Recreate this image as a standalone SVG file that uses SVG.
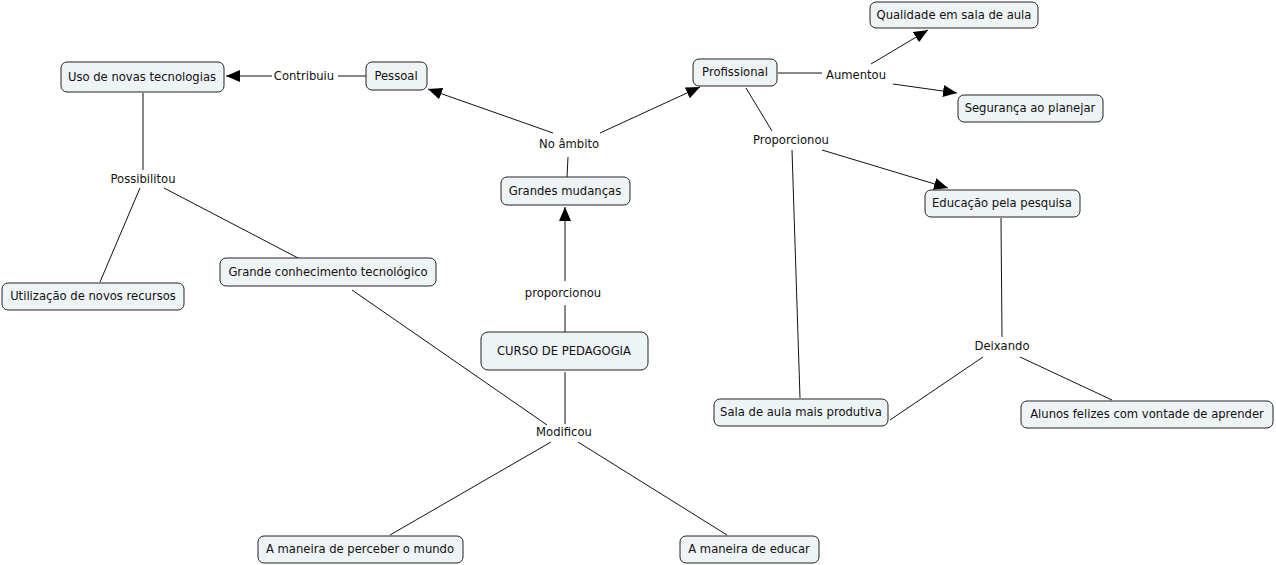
<svg xmlns="http://www.w3.org/2000/svg" width="1276" height="565" viewBox="0 0 1276 565">
<style>
.n rect{fill:#eef3f5;stroke:#222;stroke-width:1}
text{font-family:"DejaVu Sans","Liberation Sans",sans-serif;font-size:11.6px;fill:#111;text-anchor:middle}
.c line{stroke:#111;stroke-width:1}
.a{marker-end:url(#ah)}
</style>
<defs>
<marker id="ah" markerUnits="userSpaceOnUse" markerWidth="14" markerHeight="12" viewBox="0 0 14 12" refX="14" refY="6" orient="auto">
<path d="M0,0 L14,6 L0,12 Z" fill="#000"/>
</marker>
</defs>
<rect width="1276" height="565" fill="#fff"/>
<g class="c" id="connectors">
<line x1="366" y1="76" x2="338" y2="76"/>
<line class="a" x1="272" y1="76" x2="226" y2="76"/>
<line x1="567" y1="177" x2="568" y2="157"/>
<line class="a" x1="553" y1="133" x2="428" y2="89"/>
<line class="a" x1="600" y1="133" x2="700" y2="87"/>
<line x1="565" y1="332" x2="565" y2="305"/>
<line class="a" x1="565" y1="281" x2="565" y2="207"/>
<line x1="778" y1="73" x2="822" y2="73"/>
<line class="a" x1="871" y1="64" x2="928" y2="30"/>
<line class="a" x1="893" y1="84" x2="957" y2="93"/>
<line x1="746" y1="88" x2="772" y2="131"/>
<line class="a" x1="822" y1="150" x2="948" y2="188"/>
<line x1="792" y1="150" x2="800" y2="398"/>
<line x1="1001" y1="218" x2="1002" y2="337"/>
<line x1="983" y1="357" x2="890" y2="420"/>
<line x1="1020" y1="357" x2="1112" y2="400"/>
<line x1="143" y1="93" x2="143" y2="170"/>
<line x1="140" y1="188" x2="100" y2="282"/>
<line x1="164" y1="188" x2="298" y2="258"/>
<line x1="352" y1="290" x2="547" y2="425"/>
<line x1="565" y1="372" x2="565" y2="424"/>
<line x1="551" y1="442" x2="390" y2="535"/>
<line x1="578" y1="442" x2="727" y2="535"/>
</g>
<g id="labels">
<text x="304" y="80">Contribuiu</text>
<text x="569" y="148">No âmbito</text>
<text x="856" y="79">Aumentou</text>
<text x="791" y="144">Proporcionou</text>
<text x="143" y="183">Possibilitou</text>
<text x="563" y="297">proporcionou</text>
<text x="1002" y="350">Deixando</text>
<text x="564" y="436">Modificou</text>
</g>
<g class="n" id="uso"><rect x="61" y="62" width="163" height="30" rx="6"/><text x="142" y="81">Uso de novas tecnologias</text></g>
<g class="n" id="pessoal"><rect x="366" y="62" width="61" height="28" rx="6"/><text x="396" y="80">Pessoal</text></g>
<g class="n" id="profissional"><rect x="693" y="59" width="84" height="27" rx="6"/><text x="735" y="76">Profissional</text></g>
<g class="n" id="qualidade"><rect x="870" y="2" width="168" height="26" rx="6"/><text x="954" y="19">Qualidade em sala de aula</text></g>
<g class="n" id="seguranca"><rect x="958" y="95" width="145" height="27" rx="6"/><text x="1030" y="112">Segurança ao planejar</text></g>
<g class="n" id="grandes"><rect x="501" y="177" width="129" height="28" rx="6"/><text x="565" y="195">Grandes mudanças</text></g>
<g class="n" id="educacao"><rect x="925" y="190" width="155" height="27" rx="6"/><text x="1002" y="207">Educação pela pesquisa</text></g>
<g class="n" id="utilizacao"><rect x="2" y="283" width="182" height="27" rx="6"/><text x="93" y="300">Utilização de novos recursos</text></g>
<g class="n" id="conhecimento"><rect x="220" y="258" width="216" height="28" rx="6"/><text x="328" y="276">Grande conhecimento tecnológico</text></g>
<g class="n" id="curso"><rect x="481" y="332" width="167" height="38" rx="7"/><text x="564" y="355">CURSO DE PEDAGOGIA</text></g>
<g class="n" id="sala"><rect x="714" y="399" width="174" height="27" rx="6"/><text x="801" y="416">Sala de aula mais produtiva</text></g>
<g class="n" id="alunos"><rect x="1021" y="401" width="252" height="27" rx="6"/><text x="1147" y="418">Alunos felizes com vontade de aprender</text></g>
<g class="n" id="perceber"><rect x="258" y="536" width="205" height="27" rx="6"/><text x="360" y="553">A maneira de perceber o mundo</text></g>
<g class="n" id="educar"><rect x="680" y="536" width="139" height="27" rx="6"/><text x="749" y="553">A maneira de educar</text></g>
</svg>
